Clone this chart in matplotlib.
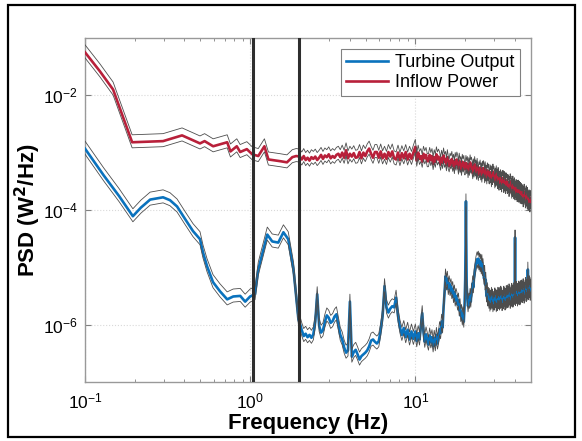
import numpy as np
import matplotlib as mpl
mpl.use('Agg')
import matplotlib.pyplot as plt
from matplotlib.patches import Rectangle
from matplotlib.ticker import LogLocator, NullFormatter, NullLocator

plt.rcParams['font.family'] = ['Liberation Sans', 'DejaVu Sans']

# --- data (PSD given as log10 values) ---

# Inflow Power, below 2 Hz
inflow_f_low = [0.1, 0.123, 0.148, 0.193, 0.297, 0.387, 0.497, 0.53, 0.597,
                0.726, 0.76, 0.83, 0.87, 0.955, 1.03, 1.12, 1.22, 1.29, 1.52,
                1.67, 1.8, 1.9]
inflow_log_low = [-1.25, -1.58, -1.90, -2.82, -2.80, -2.70, -2.84, -2.80, -2.89,
                  -2.82, -2.98, -2.89, -2.99, -2.94, -3.03, -3.06, -2.89, -3.12,
                  -3.15, -3.17, -3.08, -3.06]

# Inflow Power, 2-10 Hz (log spaced bins)
inflow_log_mid = [
    -3.07, -3.12, -3.06, -3.13, -3.09, -3.14, -3.08, -3.11, -3.07, -3.13,
    -3.09, -3.04, -3.11, -3.05, -3.08, -3.03, -3.10, -3.06, -3.09, -3.04,
    -3.02, -3.08, -3.00, -3.09, -2.96, -3.10, -3.02, -3.07, -3.01, -3.09,
    -3.08, -2.99, -3.10, -3.00, -3.06, -2.98, -2.93, -3.02, -3.09, -2.99,
    -2.99, -3.09, -2.98, -3.10, -3.02, -3.11, -2.99, -3.07, -2.98, -3.10,
    -3.12, -3.00, -3.13, -3.01, -3.10, -2.99, -3.12, -3.02, -3.11, -3.00,
]

# Inflow Power, 10-50 Hz (linear bins)
inflow_log_high = [
    -2.90, -3.14, -3.00, -3.11, -3.06, -3.16, -3.02, -3.10, -3.04, -3.15,
    -3.15, -3.04, -3.13, -3.06, -3.20, -3.08, -3.16, -3.03, -3.12, -3.07,
    -3.12, -3.21, -3.09, -3.18, -3.05, -3.16, -3.11, -3.22, -3.08, -3.19,
    -3.24, -3.14, -3.19, -3.11, -3.23, -3.16, -3.27, -3.13, -3.21, -3.12,
    -3.17, -3.28, -3.14, -3.25, -3.20, -3.30, -3.16, -3.24, -3.18, -3.29,
    -3.29, -3.18, -3.27, -3.20, -3.34, -3.22, -3.30, -3.17, -3.26, -3.21,
    -3.27, -3.36, -3.24, -3.33, -3.20, -3.31, -3.26, -3.37, -3.23, -3.34,
    -3.39, -3.29, -3.34, -3.26, -3.38, -3.31, -3.42, -3.28, -3.36, -3.27,
    -3.32, -3.43, -3.29, -3.40, -3.35, -3.45, -3.31, -3.39, -3.33, -3.44,
    -3.45, -3.34, -3.43, -3.36, -3.50, -3.38, -3.46, -3.33, -3.42, -3.37,
    -3.43, -3.52, -3.40, -3.49, -3.36, -3.47, -3.42, -3.53, -3.39, -3.50,
    -3.56, -3.46, -3.51, -3.43, -3.55, -3.48, -3.59, -3.45, -3.53, -3.44,
    -3.49, -3.60, -3.46, -3.57, -3.52, -3.62, -3.48, -3.56, -3.50, -3.61,
    -3.62, -3.51, -3.60, -3.53, -3.67, -3.55, -3.63, -3.50, -3.59, -3.54,
    -3.61, -3.70, -3.58, -3.67, -3.54, -3.65, -3.60, -3.71, -3.57, -3.68,
    -3.73, -3.63, -3.68, -3.60, -3.72, -3.65, -3.76, -3.62, -3.70, -3.61,
    -3.66, -3.77, -3.63, -3.74, -3.69, -3.79, -3.65, -3.73, -3.67, -3.78,
    -3.80, -3.69, -3.78, -3.71, -3.85, -3.73, -3.81, -3.68, -3.77, -3.72,
    -3.78, -3.87, -3.75, -3.84, -3.71, -3.82, -3.77, -3.88, -3.74, -3.85,
    -3.91, -3.81, -3.86, -3.78, -3.90, -3.83, -3.94, -3.80, -3.88, -3.79,
]

# Turbine Output, below 2 Hz
turbine_f_low = [0.1, 0.130, 0.161, 0.195, 0.218, 0.248, 0.297, 0.327, 0.361,
                 0.404, 0.451, 0.497, 0.518, 0.548, 0.596, 0.657, 0.726, 0.790,
                 0.871, 0.933, 1.0, 1.07, 1.12, 1.27, 1.36, 1.48, 1.59, 1.70,
                 1.83, 1.96]
turbine_log_low = [-2.93, -3.40, -3.76, -4.11, -3.96, -3.82, -3.78, -3.83, -3.94,
                   -4.16, -4.37, -4.51, -4.74, -4.98, -5.26, -5.42, -5.56, -5.51,
                   -5.50, -5.60, -5.51, -5.47, -5.04, -4.43, -4.55, -4.57, -4.39,
                   -4.51, -5.04, -5.91]

# Turbine Output, 2-10 Hz (log spaced bins)
turbine_log_mid = [
    -5.98, -6.10, -6.20, -6.16, -6.22, -6.18, -6.23, -6.17, -5.95, -5.47,
    -6.02, -6.14, -6.10, -5.95, -5.84, -5.88, -5.97, -5.94, -5.86, -5.82,
    -6.00, -6.18, -6.26, -6.40, -6.49, -6.45, -5.60, -6.56, -6.48, -6.44,
    -6.52, -6.61, -6.55, -6.52, -6.49, -6.45, -6.38, -6.28, -6.26, -6.30,
    -6.33, -6.29, -6.10, -5.85, -5.33, -5.70, -5.79, -5.72, -5.68, -5.70,
    -5.53, -5.85, -6.05, -6.18, -6.06, -6.22, -6.09, -6.26, -6.12, -6.25,
]

# Turbine Output, 10-50 Hz (linear bins)
turbine_log_high = [
    -6.12, -6.29, -6.15, -6.26, -6.02, -5.80, -6.13, -6.30, -6.17, -6.27,
    -6.35, -6.19, -6.31, -6.22, -6.38, -6.23, -6.36, -6.18, -6.33, -6.24,
    -6.08, -6.15, -5.95, -6.05, -5.70, -5.45, -5.16, -5.30, -5.20, -5.38,
    -5.28, -5.40, -5.33, -5.45, -5.38, -5.52, -5.44, -5.58, -5.50, -5.56,
    -5.65, -5.58, -5.75, -5.68, -5.85, -5.78, -5.91, -5.82, -5.95, -5.70,
    -5.20, -3.85, -5.30, -5.55, -5.68, -5.58, -5.62, -5.50, -5.60, -5.45,
    -5.40, -5.28, -5.35, -5.18, -5.10, -5.02, -4.95, -4.90, -4.86, -4.92,
    -4.85, -4.95, -4.88, -4.98, -4.90, -5.02, -4.91, -5.05, -4.98, -5.12,
    -5.20, -5.10, -5.30, -5.22, -5.45, -5.51, -5.40, -5.58, -5.48, -5.62,
    -5.50, -5.67, -5.53, -5.64, -5.48, -5.62, -5.51, -5.68, -5.55, -5.65,
    -5.65, -5.49, -5.61, -5.52, -5.68, -5.53, -5.66, -5.48, -5.63, -5.54,
    -5.48, -5.65, -5.51, -5.62, -5.46, -5.60, -5.49, -5.66, -5.53, -5.63,
    -5.62, -5.46, -5.58, -5.49, -5.65, -5.50, -5.63, -5.45, -5.60, -5.51,
    -5.44, -5.61, -5.47, -5.58, -5.42, -5.56, -5.45, -5.62, -5.49, -5.59,
    -5.57, -5.41, -5.53, -5.44, -5.60, -5.45, -5.58, -5.40, -5.55, -5.46,
    -4.48, -5.57, -5.43, -5.54, -5.38, -5.52, -5.41, -5.58, -5.45, -5.55,
    -5.53, -5.37, -5.49, -5.40, -5.56, -5.41, -5.54, -5.36, -5.51, -5.42,
    -5.35, -5.52, -5.38, -5.49, -5.33, -5.47, -5.36, -5.53, -5.40, -5.50,
    -5.47, -5.31, -5.43, -5.34, -5.50, -5.35, -5.48, -5.30, -5.45, -5.04,
    -5.30, -5.47, -5.33, -5.44, -5.28, -5.42, -5.31, -5.48, -5.35, -5.45,
]

# frequency bins of the two sampled bands
MID_START, MID_END = 2.0, 10.0
HIGH_START, HIGH_END = 10.0, 50.0

# confidence bound factors
CI_UP = 1.35
CI_LO = 0.80

# band edges (vertical lines)
band_edges = [1.04, 1.97]

labels = ['Turbine Output', 'Inflow Power']


def build(f_low, log_low, log_mid, log_high):
    f_mid = np.geomspace(MID_START, MID_END, len(log_mid), endpoint=False)
    f_high = np.linspace(HIGH_START, HIGH_END, len(log_high))
    f = np.concatenate([f_low, f_mid, f_high])
    p = 10.0 ** np.concatenate([log_low, log_mid, log_high])
    return f, p


f_in, p_in = build(inflow_f_low, inflow_log_low, inflow_log_mid, inflow_log_high)
f_tu, p_tu = build(turbine_f_low, turbine_log_low, turbine_log_mid, turbine_log_high)

fig = plt.figure(figsize=(5.82, 4.41), dpi=100)
ax = fig.add_axes([0.146, 0.134, 0.766, 0.780])

l_tu, = ax.plot(f_tu, p_tu, color='#0a72bd', lw=1.9, zorder=3)
l_in, = ax.plot(f_in, p_in, color='#b8203a', lw=1.9, zorder=3)
for f, p in [(f_tu, p_tu), (f_in, p_in)]:
    ax.plot(f, p * CI_UP, color='0.3', lw=0.6, zorder=4)
    ax.plot(f, p * CI_LO, color='0.3', lw=0.6, zorder=4)

for xe in band_edges:
    ax.axvline(xe, color='0.18', lw=2.2, zorder=5)

ax.set_xscale('log')
ax.set_yscale('log')
ax.set_xlim(0.1, 50)
ax.set_ylim(1e-7, 1e-1)

ax.set_yticks([1e-6, 1e-4, 1e-2])
ax.yaxis.set_minor_locator(NullLocator())
ax.xaxis.set_minor_locator(LogLocator(base=10, subs=np.arange(2, 10), numticks=10))
ax.xaxis.set_minor_formatter(NullFormatter())
ax.tick_params(which='both', direction='in', top=True, right=True, color='0.5',
               labelsize=12.5)
ax.tick_params(axis='x', pad=7)
ax.tick_params(axis='y', pad=5)
ax.tick_params(which='major', length=4)
ax.tick_params(which='minor', length=2.5)
for s in ax.spines.values():
    s.set_color('0.6')
    s.set_linewidth(1.0)
ax.grid(True, which='major', color='0.85', linestyle=':', linewidth=0.8)

ax.set_xlabel('Frequency (Hz)', fontsize=16, fontweight='bold', labelpad=1)
ax.set_ylabel('PSD (W$^\\mathbf{2}$/Hz)', fontsize=16, fontweight='bold', labelpad=0)

leg = ax.legend([l_tu, l_in], labels, loc='upper right', fontsize=13,
                fancybox=False, framealpha=1, edgecolor='0.5',
                handlelength=2.3, borderaxespad=0.6, handletextpad=0.4,
                labelspacing=0.15, borderpad=0.3)
leg.get_frame().set_linewidth(0.8)

# outer frame round the whole figure
fig.patches.append(Rectangle((0.014, 0.009), 0.974, 0.98, transform=fig.transFigure,
                             fill=False, edgecolor='black', lw=1.6))

fig.savefig('out.png', dpi=100)
